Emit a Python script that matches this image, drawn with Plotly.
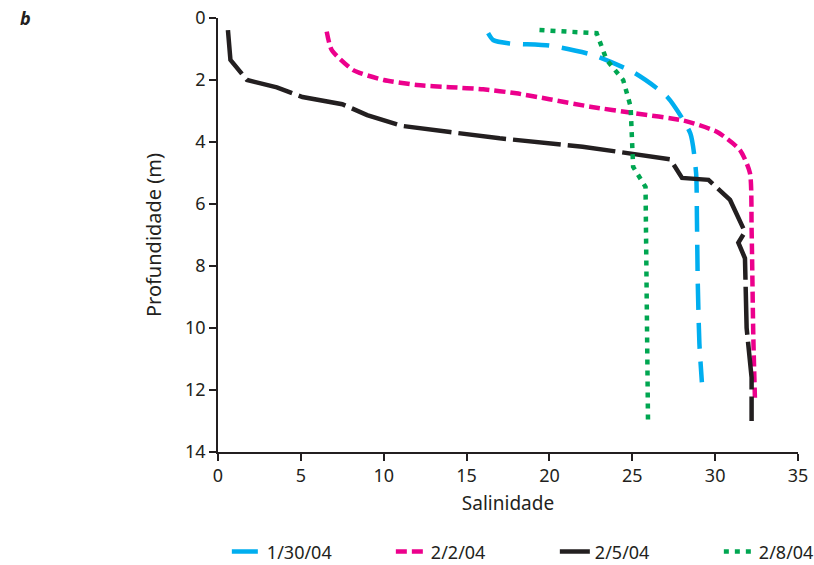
import plotly.graph_objects as go

# salinity (x) vs depth in m (y) for each sampling date
sal_0130 = [16.3, 16.6, 17.6, 20.0, 22.6, 25.1, 27.1, 28.5, 28.85, 28.9, 28.95, 29.05, 29.2]
dep_0130 = [0.49, 0.71, 0.82, 0.89, 1.19, 1.76, 2.54, 3.72, 5.0, 6.4, 8.5, 10.5, 11.75]

sal_0202 = [6.56, 6.86, 8.16, 10.0, 12.0, 14.0, 16.0, 18.0, 20.0, 22.45, 25.1, 28.1, 30.1, 31.5, 32.1, 32.2, 32.3, 32.4]
dep_0202 = [0.44, 1.03, 1.68, 2.0, 2.16, 2.23, 2.3, 2.43, 2.62, 2.86, 3.07, 3.31, 3.67, 4.26, 5.0, 6.8, 10.2, 12.25]

sal_0205 = [0.6, 0.75, 1.75, 3.55, 5.1, 7.5, 9.0, 11.1, 14.0, 17.0, 22.0, 24.9, 27.3, 28.0, 29.6, 30.9, 31.8, 31.4, 31.8, 31.9, 32.2, 32.2]
dep_0205 = [0.39, 1.35, 2.0, 2.24, 2.55, 2.78, 3.13, 3.48, 3.68, 3.88, 4.15, 4.39, 4.56, 5.16, 5.22, 5.87, 6.9, 7.25, 7.75, 10.0, 11.6, 13.0]

sal_0208 = [19.4, 22.85, 23.45, 24.45, 24.9, 24.95, 25.05, 25.8, 25.85, 25.95]
dep_0208 = [0.39, 0.49, 1.35, 2.0, 2.86, 3.94, 4.8, 5.45, 8.4, 13.1]

axis_col = "#231f20"
font = "Noto Sans"

fig = go.Figure()

fig.add_trace(go.Scatter(x=sal_0130, y=dep_0130, mode="lines", name="1/30/04",
                         line=dict(color="#00aeef", width=4.5, dash="26px,13px", shape="spline", smoothing=0.6)))
fig.add_trace(go.Scatter(x=sal_0202, y=dep_0202, mode="lines", name="2/2/04",
                         line=dict(color="#ec008c", width=4.5, dash="11px,5px", shape="spline", smoothing=0.6)))
fig.add_trace(go.Scatter(x=sal_0205, y=dep_0205, mode="lines", name="2/5/04",
                         line=dict(color=axis_col, width=4.5, dash="48px,7px")))
fig.add_trace(go.Scatter(x=sal_0208, y=dep_0208, mode="lines", name="2/8/04",
                         line=dict(color="#00a651", width=4.5, dash="5px,6px")))

# panel letter
fig.add_annotation(text="<b><i>b</i></b>", x=-0.345, y=1.0, xref="paper", yref="paper",
                   xanchor="left", yanchor="middle", showarrow=False,
                   font=dict(size=18, color=axis_col, family=font))

fig.update_xaxes(range=[0, 35], tickvals=list(range(0, 36, 5)), showgrid=False, zeroline=False,
                 showline=True, linecolor=axis_col, linewidth=1.5, ticks="outside", ticklen=7,
                 tickcolor=axis_col, tickwidth=1.5, tickfont=dict(size=18, color=axis_col),
                 title=dict(text="Salinidade", font=dict(size=19, color=axis_col), standoff=10),
                 automargin=False)
fig.update_yaxes(range=[14, 0], tickvals=list(range(0, 15, 2)), showgrid=False, zeroline=False,
                 showline=True, linecolor=axis_col, linewidth=1.5, ticks="outside", ticklen=7,
                 tickcolor=axis_col, tickwidth=1.5, tickfont=dict(size=18, color=axis_col),
                 title=dict(text="Profundidade (m)", font=dict(size=20, color=axis_col), standoff=18),
                 automargin=False)

fig.update_layout(
    width=814, height=565,
    margin=dict(l=218, r=16, t=18, b=113, autoexpand=False),
    paper_bgcolor="white", plot_bgcolor="white",
    font=dict(family=font, color=axis_col),
    showlegend=True,
    legend=dict(orientation="h", x=-0.002, xanchor="left", y=-0.23, yanchor="middle",
                indentation=10, entrywidth=109, entrywidthmode="pixels",
                font=dict(size=18, color=axis_col)),
)

# drop the default page margin so the figure sits at the window's corner
fig.write_html("out.html", config={"displayModeBar": False},
               post_script="document.body.style.margin='0';")
